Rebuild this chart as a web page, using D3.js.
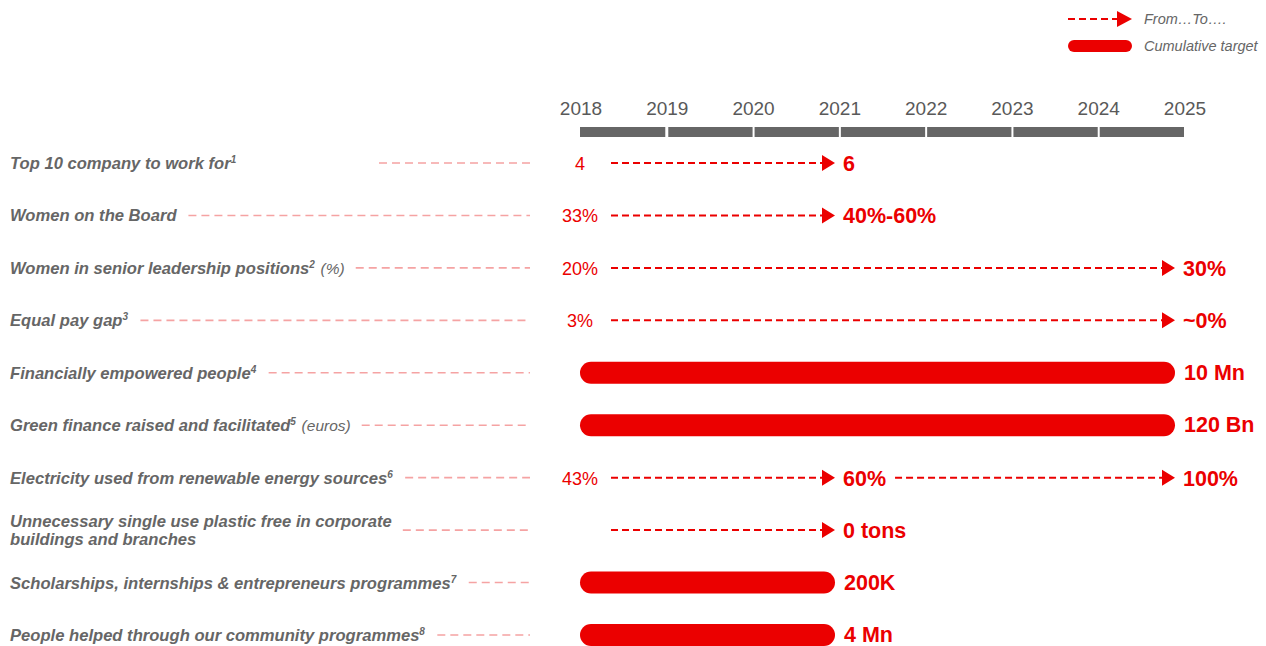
<!DOCTYPE html>
<html>
<head>
<meta charset="utf-8">
<script src="https://cdn.jsdelivr.net/npm/d3@7"></script>
<style>
  body { margin: 0; background: #fff; }
  text { font-family: "Liberation Sans", Arial, sans-serif; }
</style>
</head>
<body>
<svg id="chart"></svg>
<script>
var width = 1266;
var height = 646;
var red = "#eb0000";
var grey = "#666666";

// data
var years = [2018, 2019, 2020, 2021, 2022, 2023, 2024, 2025];
var metrics = [
    "Top 10 company to work for",
    "Women on the Board",
    "Women in senior leadership positions",
    "Equal pay gap",
    "Financially empowered people",
    "Green finance raised and facilitated",
    "Electricity used from renewable energy sources",
    "Unnecessary single use plastic free in corporate|buildings and branches",
    "Scholarships, internships & entrepreneurs programmes",
    "People helped through our community programmes"
];
var footnotes = ["1", "", "2", "3", "4", "5", "6", "", "7", "8"];
var suffixes = ["", "", "(%)", "", "", "(euros)", "", "", "", ""];
var startValues = ["4", "33%", "20%", "3%", "", "", "43%", "", "", ""];
var markTypes = ["arrow", "arrow", "arrow", "arrow", "bar", "bar", "arrow", "arrow", "bar", "bar"];
var targetYears = [[2021], [2021], [2025], [2025], [2025], [2025], [2021, 2025], [2021], [2021], [2021]];
var targetLabels = [["6"], ["40%-60%"], ["30%"], ["~0%"], ["10 Mn"], ["120 Bn"], ["60%", "100%"], ["0 tons"], ["200K"], ["4 Mn"]];

var svg = d3.select("#chart").attr("width", width).attr("height", height);

// axis scale (labels + timeline) and mark scale
var xAxis = d3.scaleLinear().domain([2018, 2025]).range([581, 1185]);
var x = d3.scaleLinear().domain([2018, 2025]).range([580, 1175]);
var y = d3.scalePoint().domain(d3.range(metrics.length)).range([163, 635]);

// year labels
svg.append("g").selectAll("text")
    .data(years)
    .enter().append("text")
    .attr("x", function (d) { return xAxis(d); })
    .attr("y", 115)
    .attr("text-anchor", "middle")
    .style("font-size", "19px")
    .style("fill", "#595959")
    .text(function (d) { return d; });

// timeline segments
svg.append("g").selectAll("rect")
    .data(years.slice(0, -1))
    .enter().append("rect")
    .attr("x", function (d) { return xAxis(d) + (d === 2018 ? -1 : 1); })
    .attr("y", 127)
    .attr("width", function (d) { return xAxis(d + 1) - xAxis(d) - (d === 2018 ? 1 : 2); })
    .attr("height", 10)
    .attr("fill", grey);

// row labels
var rows = svg.append("g").selectAll("g")
    .data(metrics)
    .enter().append("g");

var labels = rows.append("text")
    .attr("x", 10)
    .attr("y", function (d, i) { return y(i) + 6; })
    .style("font-size", "16.6px")
    .style("font-weight", "bold")
    .style("font-style", "italic")
    .style("fill", grey);

labels.each(function (d, i) {
    var t = d3.select(this);
    var parts = d.split("|");
    if (parts.length > 1) {
        t.attr("y", y(i) - 3);
        t.append("tspan").text(parts[0]);
        t.append("tspan").attr("x", 10).attr("dy", 18).text(parts[1]);
    } else {
        t.append("tspan").text(parts[0]);
    }
    if (footnotes[i]) {
        t.append("tspan")
            .attr("dy", -6)
            .style("font-size", "10px")
            .text(footnotes[i]);
        t.append("tspan").attr("dy", 6).text("\u200a");
    }
    if (suffixes[i]) {
        t.append("tspan")
            .style("font-weight", "normal")
            .style("font-size", "15.5px")
            .text(" " + suffixes[i]);
    }
});

// leader lines
rows.append("line")
    .attr("x1", function (d, i) {
        if (i === 0) return 379;
        var w = labels.nodes()[i].getBBox();
        return w.x + w.width + 11;
    })
    .attr("x2", 530)
    .attr("y1", function (d, i) { return y(i); })
    .attr("y2", function (d, i) { return y(i); })
    .style("stroke", "#f5a3a3")
    .style("stroke-width", 1.6)
    .style("stroke-dasharray", "8,5");

// starting values
rows.append("text")
    .attr("x", x(2018))
    .attr("y", function (d, i) { return y(i) + 7; })
    .attr("text-anchor", "middle")
    .style("font-size", "18px")
    .style("fill", red)
    .text(function (d, i) { return startValues[i]; });

// marks
rows.each(function (d, i) {
    var g = d3.select(this);
    var cy = y(i);
    if (markTypes[i] === "bar") {
        var end = targetYears[i][0];
        g.append("rect")
            .attr("x", x(2018))
            .attr("y", cy - 11)
            .attr("width", x(end) - x(2018))
            .attr("height", 22)
            .attr("rx", 11)
            .attr("fill", red);
        g.append("text")
            .attr("x", x(end) + 9)
            .attr("y", cy + 7)
            .style("font-size", "21.5px")
            .style("font-weight", "bold")
            .style("fill", red)
            .text(targetLabels[i][0]);
    } else {
        var startX = x(2018) + 31;
        targetYears[i].forEach(function (yr, k) {
            var tip = x(yr);
            g.append("line")
                .attr("x1", startX)
                .attr("x2", tip - 13)
                .attr("y1", cy)
                .attr("y2", cy)
                .style("stroke", red)
                .style("stroke-width", 2)
                .style("stroke-dasharray", "7,4");
            g.append("path")
                .attr("d", "M" + (tip - 13) + "," + (cy - 8) + "L" + tip + "," + cy + "L" + (tip - 13) + "," + (cy + 8) + "Z")
                .attr("fill", red);
            var lbl = g.append("text")
                .attr("x", tip + 8)
                .attr("y", cy + 8)
                .style("font-size", "21.5px")
                .style("font-weight", "bold")
                .style("fill", red)
                .text(targetLabels[i][k]);
            var b = lbl.node().getBBox();
            startX = b.x + b.width + 9;
        });
    }
});

// legend
var legend = svg.append("g");
legend.append("line")
    .attr("x1", 1068).attr("x2", 1117)
    .attr("y1", 19).attr("y2", 19)
    .style("stroke", red)
    .style("stroke-width", 2)
    .style("stroke-dasharray", "7,4");
legend.append("path")
    .attr("d", "M1117,11L1132,19L1117,27Z")
    .attr("fill", red);
legend.append("rect")
    .attr("x", 1068).attr("y", 40)
    .attr("width", 64).attr("height", 12)
    .attr("rx", 6)
    .attr("fill", red);
legend.selectAll("text")
    .data(["From\u2026To\u2026.", "Cumulative target"])
    .enter().append("text")
    .attr("x", 1144)
    .attr("y", function (d, i) { return 24 + i * 27; })
    .style("font-size", "14.5px")
    .style("font-style", "italic")
    .style("fill", grey)
    .text(function (d) { return d; });
</script>
</body>
</html>
